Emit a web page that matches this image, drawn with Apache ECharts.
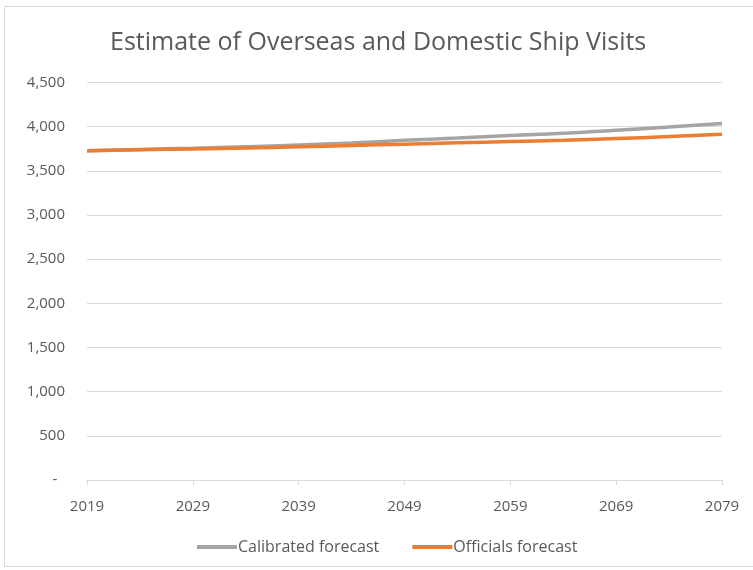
<!DOCTYPE html>
<html>
<head>
<meta charset="utf-8">
<script src="https://cdn.jsdelivr.net/npm/echarts@6/dist/echarts.min.js"></script>
<style>html,body{margin:0;padding:0;background:#fff}#c{width:753px;height:570px}</style>
</head>
<body>
<div id="c"></div>
<script>
const years = [];
for (let y = 2019; y <= 2079; y++) years.push(String(y));
const sampleYears = ['2019','2024','2029','2034','2039','2044','2049','2054','2059','2064','2069','2074','2079'];
const calibrated = [3728,3742,3756,3773,3792,3815,3845,3872,3900,3925,3960,3995,4035];
const officials  = [3728,3738,3748,3758,3772,3787,3802,3817,3832,3845,3865,3888,3915];

const chart = echarts.init(document.getElementById('c'));
const font = 'Open Sans, sans-serif';
chart.setOption({
  animation: false,
  backgroundColor: '#fff',
  graphic: [{
    type: 'rect', shape: {x: 4.5, y: 6.5, width: 800, height: 560},
    style: {fill: 'none', stroke: '#d9d9d9', lineWidth: 1}, silent: true
  }],
  title: {
    text: 'Estimate of Overseas and Domestic Ship Visits',
    left: 110, top: 30, padding: 0,
    textStyle: {fontFamily: 'Open Sans', fontWeight: 'normal', fontSize: 25, color: '#595959'}
  },
  legend: {
    bottom: 10, left: 192,
    icon: 'rect', itemWidth: 40, itemHeight: 4, itemGap: 33,
    textStyle: {fontFamily: font, fontSize: 16, color: '#595959', padding: [0,0,0,-4]},
    data: ['Calibrated forecast', 'Officials forecast']
  },
  grid: {left: 87, right: 31, top: 82.5, bottom: 90},
  xAxis: {
    type: 'category', data: years, boundaryGap: false,
    axisLine: {lineStyle: {color: '#d9d9d9'}},
    axisTick: {show: true, interval: 9, length: 5, lineStyle: {color: '#d9d9d9'}},
    axisLabel: {interval: 9, color: '#595959', fontFamily: font, fontSize: 15, margin: 19},
    splitLine: {show: false}
  },
  yAxis: {
    type: 'value', min: 0, max: 4500, interval: 500,
    axisLine: {show: false}, axisTick: {show: false},
    axisLabel: {
      color: '#595959', fontFamily: font, fontSize: 15, margin: 22,
      formatter: v => v === 0 ? '-  ' : v.toLocaleString('en-US')
    },
    splitLine: {lineStyle: {color: '#d9d9d9'}}
  },
  series: [
    {name: 'Calibrated forecast', type: 'line', showSymbol: false, smooth: true,
     data: sampleYears.map((y, i) => [y, calibrated[i]]),
     lineStyle: {color: '#A5A5A5', width: 3.5}, itemStyle: {color: '#A5A5A5'}},
    {name: 'Officials forecast', type: 'line', showSymbol: false, smooth: true,
     data: sampleYears.map((y, i) => [y, officials[i]]),
     lineStyle: {color: '#ED7D31', width: 3.5}, itemStyle: {color: '#ED7D31'}}
  ]
});
</script>
</body>
</html>
